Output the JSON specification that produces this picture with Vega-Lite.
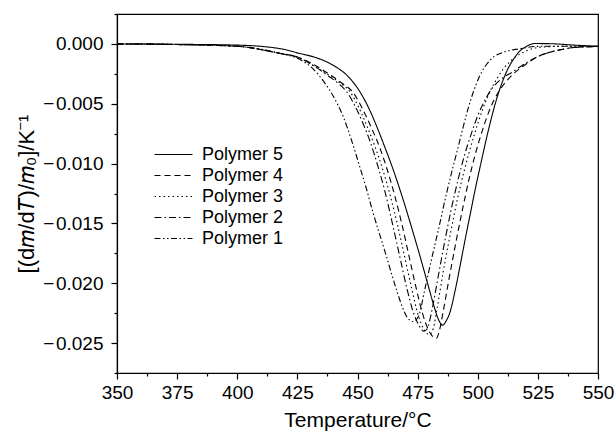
{
  "$schema": "https://vega.github.io/schema/vega-lite/v6.json",
  "width": 481,
  "height": 359,
  "autosize": "none",
  "padding": {"left": 117, "top": 14, "right": 18, "bottom": 61},
  "background": "white",
  "config": {
    "view": {"stroke": "black", "strokeWidth": 1.2},
    "font": "Liberation Sans"
  },
  "datasets": {
    "curves": [
      {"s":"Polymer 5","t":350,"v":0},{"s":"Polymer 5","t":375,"v":-0.00003},{"s":"Polymer 5","t":400,"v":-0.0001},{"s":"Polymer 5","t":418,"v":-0.0004},{"s":"Polymer 5","t":426,"v":-0.0008},{"s":"Polymer 5","t":432,"v":-0.0011},{"s":"Polymer 5","t":440,"v":-0.0018},{"s":"Polymer 5","t":446,"v":-0.0027},{"s":"Polymer 5","t":451,"v":-0.004},{"s":"Polymer 5","t":455,"v":-0.0055},{"s":"Polymer 5","t":458,"v":-0.0069},{"s":"Polymer 5","t":461.5,"v":-0.0087},{"s":"Polymer 5","t":465,"v":-0.0106},{"s":"Polymer 5","t":468,"v":-0.0124},{"s":"Polymer 5","t":472,"v":-0.015},{"s":"Polymer 5","t":475.5,"v":-0.0174},{"s":"Polymer 5","t":479,"v":-0.0199},{"s":"Polymer 5","t":481.5,"v":-0.0217},{"s":"Polymer 5","t":483.6,"v":-0.023},{"s":"Polymer 5","t":485.4,"v":-0.0235},{"s":"Polymer 5","t":487,"v":-0.0231},{"s":"Polymer 5","t":488.5,"v":-0.0224},{"s":"Polymer 5","t":490.5,"v":-0.0207},{"s":"Polymer 5","t":492.6,"v":-0.0186},{"s":"Polymer 5","t":494.7,"v":-0.0164},{"s":"Polymer 5","t":496.8,"v":-0.0143},{"s":"Polymer 5","t":499,"v":-0.0121},{"s":"Polymer 5","t":501.5,"v":-0.0098},{"s":"Polymer 5","t":503.5,"v":-0.008},{"s":"Polymer 5","t":505.8,"v":-0.0061},{"s":"Polymer 5","t":508,"v":-0.0045},{"s":"Polymer 5","t":510,"v":-0.0033},{"s":"Polymer 5","t":512.5,"v":-0.0021},{"s":"Polymer 5","t":514.8,"v":-0.0013},{"s":"Polymer 5","t":517.5,"v":-0.0006},{"s":"Polymer 5","t":520.3,"v":-0.0002},{"s":"Polymer 5","t":523.5,"v":0.00003},{"s":"Polymer 5","t":530,"v":0.00002},{"s":"Polymer 5","t":540,"v":-0.0001},{"s":"Polymer 5","t":550,"v":-0.0002},

      {"s":"Polymer 4","t":350,"v":0},{"s":"Polymer 4","t":375,"v":-0.00005},{"s":"Polymer 4","t":400,"v":-0.0002},{"s":"Polymer 4","t":418,"v":-0.0008},{"s":"Polymer 4","t":425,"v":-0.0011},{"s":"Polymer 4","t":431.6,"v":-0.0017},{"s":"Polymer 4","t":438,"v":-0.0025},{"s":"Polymer 4","t":443,"v":-0.0032},{"s":"Polymer 4","t":448.3,"v":-0.0041},{"s":"Polymer 4","t":452,"v":-0.0054},{"s":"Polymer 4","t":456,"v":-0.0071},{"s":"Polymer 4","t":459.5,"v":-0.0088},{"s":"Polymer 4","t":462.5,"v":-0.0106},{"s":"Polymer 4","t":465.5,"v":-0.0127},{"s":"Polymer 4","t":468.5,"v":-0.0151},{"s":"Polymer 4","t":471.5,"v":-0.0178},{"s":"Polymer 4","t":474.5,"v":-0.0205},{"s":"Polymer 4","t":477,"v":-0.0225},{"s":"Polymer 4","t":479.5,"v":-0.0239},{"s":"Polymer 4","t":481.5,"v":-0.0245},{"s":"Polymer 4","t":482.8,"v":-0.0246},{"s":"Polymer 4","t":484,"v":-0.024},{"s":"Polymer 4","t":485.5,"v":-0.0225},{"s":"Polymer 4","t":488,"v":-0.0197},{"s":"Polymer 4","t":491,"v":-0.0165},{"s":"Polymer 4","t":494,"v":-0.0135},{"s":"Polymer 4","t":496.5,"v":-0.0112},{"s":"Polymer 4","t":499,"v":-0.0092},{"s":"Polymer 4","t":501.5,"v":-0.0075},{"s":"Polymer 4","t":504,"v":-0.006},{"s":"Polymer 4","t":506.5,"v":-0.0048},{"s":"Polymer 4","t":509.3,"v":-0.0038},{"s":"Polymer 4","t":512,"v":-0.0031},{"s":"Polymer 4","t":514.8,"v":-0.0025},{"s":"Polymer 4","t":520,"v":-0.0017},{"s":"Polymer 4","t":524.5,"v":-0.0011},{"s":"Polymer 4","t":530,"v":-0.0007},{"s":"Polymer 4","t":534,"v":-0.0005},{"s":"Polymer 4","t":540,"v":-0.0003},{"s":"Polymer 4","t":545,"v":-0.00025},{"s":"Polymer 4","t":550,"v":-0.0002},

      {"s":"Polymer 3","t":350,"v":0},{"s":"Polymer 3","t":375,"v":-0.00005},{"s":"Polymer 3","t":400,"v":-0.0002},{"s":"Polymer 3","t":418,"v":-0.0008},{"s":"Polymer 3","t":425,"v":-0.0011},{"s":"Polymer 3","t":431.6,"v":-0.0018},{"s":"Polymer 3","t":438,"v":-0.0026},{"s":"Polymer 3","t":443,"v":-0.0033},{"s":"Polymer 3","t":446.9,"v":-0.004},{"s":"Polymer 3","t":450.5,"v":-0.0053},{"s":"Polymer 3","t":454,"v":-0.0069},{"s":"Polymer 3","t":457.5,"v":-0.0087},{"s":"Polymer 3","t":460.5,"v":-0.0105},{"s":"Polymer 3","t":463.5,"v":-0.0126},{"s":"Polymer 3","t":466.5,"v":-0.015},{"s":"Polymer 3","t":469.5,"v":-0.0177},{"s":"Polymer 3","t":472.5,"v":-0.0204},{"s":"Polymer 3","t":475,"v":-0.0225},{"s":"Polymer 3","t":477.5,"v":-0.0238},{"s":"Polymer 3","t":479.8,"v":-0.0243},{"s":"Polymer 3","t":481.5,"v":-0.0238},{"s":"Polymer 3","t":483,"v":-0.0222},{"s":"Polymer 3","t":485.5,"v":-0.0192},{"s":"Polymer 3","t":488.5,"v":-0.016},{"s":"Polymer 3","t":491.5,"v":-0.013},{"s":"Polymer 3","t":494.5,"v":-0.0105},{"s":"Polymer 3","t":496.5,"v":-0.009},{"s":"Polymer 3","t":499,"v":-0.0073},{"s":"Polymer 3","t":502,"v":-0.0055},{"s":"Polymer 3","t":505,"v":-0.004},{"s":"Polymer 3","t":508,"v":-0.0029},{"s":"Polymer 3","t":511,"v":-0.002},{"s":"Polymer 3","t":515,"v":-0.0012},{"s":"Polymer 3","t":520,"v":-0.0006},{"s":"Polymer 3","t":525,"v":-0.0003},{"s":"Polymer 3","t":535,"v":-0.0002},{"s":"Polymer 3","t":550,"v":-0.0002},

      {"s":"Polymer 2","t":350,"v":0},{"s":"Polymer 2","t":375,"v":-0.00005},{"s":"Polymer 2","t":400,"v":-0.0002},{"s":"Polymer 2","t":418,"v":-0.0008},{"s":"Polymer 2","t":425,"v":-0.0011},{"s":"Polymer 2","t":431.6,"v":-0.0018},{"s":"Polymer 2","t":438,"v":-0.0027},{"s":"Polymer 2","t":442,"v":-0.0033},{"s":"Polymer 2","t":445.5,"v":-0.004},{"s":"Polymer 2","t":449,"v":-0.0052},{"s":"Polymer 2","t":452,"v":-0.0065},{"s":"Polymer 2","t":455.5,"v":-0.0083},{"s":"Polymer 2","t":458.6,"v":-0.0103},{"s":"Polymer 2","t":461.5,"v":-0.0124},{"s":"Polymer 2","t":464.5,"v":-0.015},{"s":"Polymer 2","t":467.5,"v":-0.0177},{"s":"Polymer 2","t":470.5,"v":-0.0204},{"s":"Polymer 2","t":473,"v":-0.0223},{"s":"Polymer 2","t":475.5,"v":-0.0235},{"s":"Polymer 2","t":477.5,"v":-0.024},{"s":"Polymer 2","t":479,"v":-0.0238},{"s":"Polymer 2","t":481,"v":-0.0222},{"s":"Polymer 2","t":483.5,"v":-0.0195},{"s":"Polymer 2","t":486,"v":-0.0168},{"s":"Polymer 2","t":489,"v":-0.0138},{"s":"Polymer 2","t":492,"v":-0.0112},{"s":"Polymer 2","t":494.5,"v":-0.0093},{"s":"Polymer 2","t":497,"v":-0.0077},{"s":"Polymer 2","t":500,"v":-0.006},{"s":"Polymer 2","t":503,"v":-0.0047},{"s":"Polymer 2","t":506,"v":-0.0037},{"s":"Polymer 2","t":510,"v":-0.0029},{"s":"Polymer 2","t":514.8,"v":-0.0023},{"s":"Polymer 2","t":520,"v":-0.0016},{"s":"Polymer 2","t":524.5,"v":-0.0011},{"s":"Polymer 2","t":530,"v":-0.0007},{"s":"Polymer 2","t":534,"v":-0.0005},{"s":"Polymer 2","t":540,"v":-0.0003},{"s":"Polymer 2","t":545,"v":-0.00025},{"s":"Polymer 2","t":550,"v":-0.0002},

      {"s":"Polymer 1","t":350,"v":0},{"s":"Polymer 1","t":375,"v":-0.00005},{"s":"Polymer 1","t":400,"v":-0.0002},{"s":"Polymer 1","t":418,"v":-0.0008},{"s":"Polymer 1","t":425,"v":-0.0012},{"s":"Polymer 1","t":431.6,"v":-0.0021},{"s":"Polymer 1","t":436.5,"v":-0.0033},{"s":"Polymer 1","t":440,"v":-0.0044},{"s":"Polymer 1","t":444.1,"v":-0.0061},{"s":"Polymer 1","t":447.6,"v":-0.0081},{"s":"Polymer 1","t":451,"v":-0.0103},{"s":"Polymer 1","t":453.7,"v":-0.0121},{"s":"Polymer 1","t":456.6,"v":-0.0142},{"s":"Polymer 1","t":459.5,"v":-0.0161},{"s":"Polymer 1","t":462.1,"v":-0.0178},{"s":"Polymer 1","t":464.3,"v":-0.0193},{"s":"Polymer 1","t":466.3,"v":-0.0206},{"s":"Polymer 1","t":468.5,"v":-0.0219},{"s":"Polymer 1","t":470.5,"v":-0.0228},{"s":"Polymer 1","t":473,"v":-0.0232},{"s":"Polymer 1","t":475.3,"v":-0.0228},{"s":"Polymer 1","t":478,"v":-0.0205},{"s":"Polymer 1","t":481,"v":-0.0178},{"s":"Polymer 1","t":484,"v":-0.0152},{"s":"Polymer 1","t":487,"v":-0.0125},{"s":"Polymer 1","t":489.7,"v":-0.0103},{"s":"Polymer 1","t":492,"v":-0.0085},{"s":"Polymer 1","t":494,"v":-0.0069},{"s":"Polymer 1","t":496,"v":-0.0054},{"s":"Polymer 1","t":498.2,"v":-0.004},{"s":"Polymer 1","t":501,"v":-0.0026},{"s":"Polymer 1","t":503.7,"v":-0.0017},{"s":"Polymer 1","t":506.5,"v":-0.0011},{"s":"Polymer 1","t":509.3,"v":-0.0008},{"s":"Polymer 1","t":517.6,"v":-0.0004},{"s":"Polymer 1","t":525.9,"v":-0.0002},{"s":"Polymer 1","t":550,"v":-0.0002}
    ]
  },
  "data": {"name": "curves"},
  "mark": {"type": "line", "interpolate": "monotone", "color": "black", "strokeWidth": 1.1, "clip": true},
  "encoding": {
    "x": {
      "field": "t", "type": "quantitative",
      "scale": {"domain": [350, 550], "nice": false, "zero": false},
      "axis": {
        "title": "Temperature/°C",
        "values": [350, 362.5, 375, 387.5, 400, 412.5, 425, 437.5, 450, 462.5, 475, 487.5, 500, 512.5, 525, 537.5, 550],
        "labelExpr": "datum.value % 25 == 0 ? datum.label : ''",
        "tickSize": {"condition": {"test": "datum.value % 25 != 0", "value": 3}, "value": 6},
        "grid": false,
        "domainColor": "black", "tickColor": "black", "tickWidth": 1.2, "domainWidth": 1.2,
        "labelFont": "Liberation Sans", "labelFontSize": 19, "labelColor": "black", "labelPadding": 4,
        "labelFlush": false,
        "titleFont": "Liberation Sans", "titleFontSize": 21, "titleFontWeight": "normal", "titleColor": "black", "titlePadding": 7
      }
    },
    "y": {
      "field": "v", "type": "quantitative",
      "scale": {"domain": [-0.0275, 0.0025], "nice": false, "zero": false},
      "axis": {
        "title": "[(d𝑚/d𝑇)/𝑚₀]/K⁻¹",
        "values": [0.0025, 0, -0.0025, -0.005, -0.0075, -0.01, -0.0125, -0.015, -0.0175, -0.02, -0.0225, -0.025, -0.0275],
        "format": ".3f",
        "labelExpr": "abs(round(datum.value*400)) % 2 == 0 && datum.value < 0.002 && datum.value > -0.026 ? replace(datum.label, '−', '−\u200a') : ''",
        "tickSize": {"condition": {"test": "abs(round(datum.value*400)) % 2 == 1", "value": 3}, "value": 6},
        "grid": false,
        "domainColor": "black", "tickColor": "black", "tickWidth": 1.2, "domainWidth": 1.2,
        "labelFont": "Liberation Sans", "labelFontSize": 19, "labelColor": "black", "labelPadding": 8,
        "titleFont": "Liberation Sans", "titleFontSize": 22, "titleFontWeight": "normal", "titleColor": "black", "titlePadding": 4
      }
    },
    "strokeDash": {
      "field": "s", "type": "nominal",
      "scale": {
        "domain": ["Polymer 5", "Polymer 4", "Polymer 3", "Polymer 2", "Polymer 1"],
        "range": [[1, 0], [6, 4], [1.5, 3], [7, 3, 1.5, 3], [6, 2.5, 1.5, 2.5, 1.5, 2.5]]
      },
      "legend": {
        "title": null,
        "orient": "none",
        "legendX": 46,
        "legendY": 130,
        "symbolType": "M-2,0H2",
        "symbolSize": 361,
        "symbolStrokeColor": "black",
        "symbolStrokeWidth": 1.1,
        "symbolFillColor": "transparent",
        "labelFont": "Liberation Sans",
        "labelFontSize": 18,
        "labelColor": "black",
        "labelOffset": 18,
        "rowPadding": 1
      }
    }
  }
}
